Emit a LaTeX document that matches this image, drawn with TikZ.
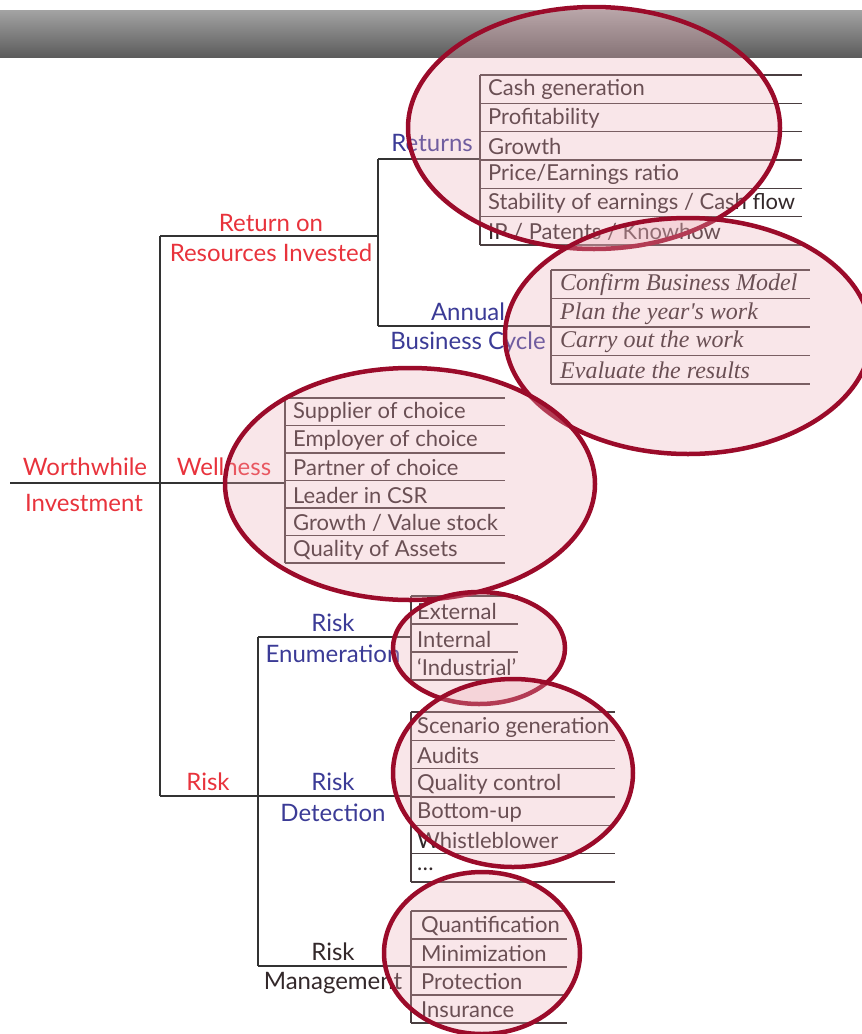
\documentclass[tikz,border=0pt]{standalone}
\usepackage{fontspec}
\newfontfamily\gill{Lato}
\newfontfamily\pala{Liberation Serif}
\usetikzlibrary{positioning, calc}

\definecolor{treegray}{HTML}{333333}
\definecolor{rowgray}{HTML}{4A3E40}
\definecolor{itemgray}{HTML}{33282A}
\definecolor{lblred}{HTML}{E8333C}
\definecolor{lblblue}{HTML}{3B3B96}
\definecolor{bubblered}{HTML}{9B0B2A}
\definecolor{bubblefill}{RGB}{235,172,182}

\tikzset{
  tree/.style={draw=treegray, line width=2.2pt},
  rowline/.style={draw=rowgray, line width=1.3pt},
  lbl/.style={inner sep=0pt, font=\gill\fontsize{24}{28}\selectfont},
  redlbl/.style={lbl, text=lblred},
  bluelbl/.style={lbl, text=lblblue},
  greylbl/.style={lbl, text=itemgray},
  itemtxt/.style={anchor=west, inner sep=0pt, text=itemgray, font=\gill\fontsize{22}{26}\selectfont},
  itemital/.style={anchor=west, inner sep=0pt, text=itemgray, font=\pala\itshape\fontsize{24}{28}\selectfont},
  bubble/.style={draw=bubblered, line width=4.5pt, fill=bubblefill, fill opacity=0.3}
}

\begin{document}
\begin{tikzpicture}[x=1pt, y=-1pt]
    \useasboundingbox (0,0) rectangle (862,1034);

    % ---------------- HEADER BAR ----------------
    \shade[top color=black!36, bottom color=black!64] (0,10) rectangle (862,57);

    % ---------------- TREE ----------------
    \coordinate (rootL) at (10,483);
    \coordinate (rootJ) at (160,483);
    \coordinate (retJ) at (160,236);
    \coordinate (rskJ) at (160,796);
    \coordinate (retB) at (378,236);
    \coordinate (retT) at (378,159);
    \coordinate (abcT) at (378,326);
    \coordinate (retL) at (480,159);
    \coordinate (abcL) at (551,326);
    \coordinate (welL) at (285,483);
    \coordinate (rskB) at (258,796);
    \coordinate (enuT) at (258,637);
    \coordinate (mgtT) at (258,966);
    \coordinate (enuL) at (411,637);
    \coordinate (detL) at (411,796);
    \coordinate (mgtL) at (411,966);

    \draw[tree] (rootL) -- (rootJ);
    \draw[tree] (retJ) -- (rskJ);
    \draw[tree] (retJ) -- (retB);
    \draw[tree] (retT) -- (abcT);
    \draw[tree] (retT) -- (retL);
    \draw[tree] (abcT) -- (abcL);
    \draw[tree] (rootJ) -- (welL);
    \draw[tree] (rskJ) -- (rskB);
    \draw[tree] (enuT) -- (mgtT);
    \draw[tree] (enuT) -- (enuL);
    \draw[tree] (rskB) -- (detL);
    \draw[tree] (mgtT) -- (mgtL);

    % Branch labels
    \node[redlbl] (wi1) at (85,467) {Worthwhile};
    \node[redlbl] (wi2) at (84,503) {Investment};
    \node[redlbl] (rri1) at (271,223) {Return on};
    \node[redlbl] (rri2) at (271,253) {Resources Invested};
    \node[redlbl] (wel) at (224,467) {Wellness};
    \node[redlbl] (rsk) at (208,782) {Risk};
    \node[bluelbl, anchor=east] (ret) at (473,143) {Returns};
    \node[bluelbl] (abc1) at (468,312) {Annual};
    \node[bluelbl] (abc2) at (468,343) {Business Cycle};
    \node[bluelbl] (enu1) at (333,623) {Risk};
    \node[bluelbl] (enu2) at (333,654) {Enumeration};
    \node[bluelbl] (det1) at (333,782) {Risk};
    \node[bluelbl] (det2) at (333,813) {Detection};
    \node[greylbl] (mgt1) at (333,952) {Risk};
    \node[greylbl] (mgt2) at (333,983) {Management};

    % ---------------- LISTS ----------------
    % Returns
    \draw[rowline] (480,75) -- (480,245);
    \foreach \i in {0,...,6} \draw[rowline] (480,75+28.33*\i) -- (802,75+28.33*\i);
    \foreach \t [count=\i] in {Cash generation, Profitability, Growth, Price/Earnings ratio,
        Stability of earnings / Cash flow, IP / Patents / Knowhow}
        \node[itemtxt] (retI\i) at (488,75+28.33*\i-13.5) {\t};

    % Annual Business Cycle
    \draw[rowline] (551,270) -- (551,384);
    \foreach \i in {0,...,4} \draw[rowline] (551,270+28.5*\i) -- (810,270+28.5*\i);
    \foreach \t [count=\i] in {Confirm Business Model, Plan the year's work, Carry out the work,
        Evaluate the results}
        \node[itemital] (abcI\i) at (560,270+28.5*\i-13.5) {\t};

    % Wellness
    \draw[rowline] (285,398) -- (285,563);
    \foreach \i in {0,...,6} \draw[rowline] (285,398+27.5*\i) -- (505,398+27.5*\i);
    \foreach \t [count=\i] in {Supplier of choice, Employer of choice, Partner of choice,
        Leader in CSR, Growth / Value stock, Quality of Assets}
        \node[itemtxt] (welI\i) at (293,398+27.5*\i-13) {\t};

    % Risk Enumeration
    \draw[rowline] (411,596) -- (411,680);
    \foreach \i in {0,...,3} \draw[rowline] (411,596+28*\i) -- (518,596+28*\i);
    \foreach \t [count=\i] in {External, Internal, ‘Industrial’}
        \node[itemtxt] (enuI\i) at (417,596+28*\i-13) {\t};

    % Risk Detection
    \draw[rowline] (411,712) -- (411,882);
    \foreach \i in {0,...,6} \draw[rowline] (411,712+28.33*\i) -- (615,712+28.33*\i);
    \foreach \t [count=\i] in {Scenario generation, Audits, Quality control, Bottom-up,
        Whistleblower}
        \node[itemtxt] (detI\i) at (417,712+28.33*\i-13) {\t};
    \node[itemtxt] (detI6) at (417,712+28.33*6-13) {\ldots};

    % Risk Management
    \draw[rowline] (411,911) -- (411,1023);
    \foreach \i in {0,...,4} \draw[rowline] (411,911+28*\i) -- (567,911+28*\i);
    \foreach \t [count=\i] in {Quantification, Minimization, Protection, Insurance}
        \node[itemtxt] (mgtI\i) at (421,911+28*\i-13) {\t};

    % ---------------- HIGHLIGHT BUBBLES ----------------
    \draw[bubble] (594,128) ellipse [x radius=186, y radius=121];
    \draw[bubble] (688,336) ellipse [x radius=183, y radius=118];
    \draw[bubble] (410,484) ellipse [x radius=185, y radius=116];
    \draw[bubble] (479,648) ellipse [x radius=86, y radius=56];
    \draw[bubble] (513,773) ellipse [x radius=120, y radius=94];
    \draw[bubble] (482,953) ellipse [x radius=98, y radius=81];
\end{tikzpicture}
\end{document}
